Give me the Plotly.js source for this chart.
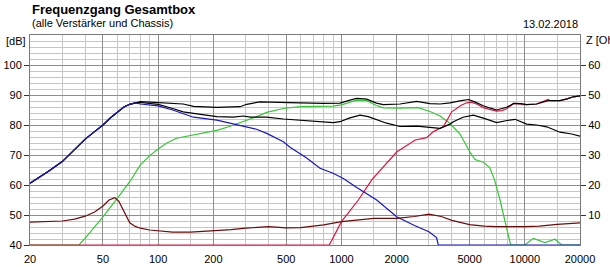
<!DOCTYPE html>
<html><head><meta charset="utf-8">
<script src="https://cdn.plot.ly/plotly-3.0.1.min.js"></script>
<style>html,body{margin:0;padding:0;background:#fff}#c{width:610px;height:267px}</style>
</head><body><div id="c"></div>
<script>
// ---- data ----
var lowF  = [20,25,30,35,40,45,50,55,60,65,70,75];
var lowDB = [60.6,64.4,67.8,71.8,75.3,77.8,80.0,82.4,84.4,86.0,86.9,87.4];

var upperF  = [80,90,100,120,137,156,209,280,304,359,482,594,800,982,1100,1210,1373,1550,1692,2086,2573,3040,3447,3910,4500,4930,5300,5938,6500,7020,7962,8700,9500,10237,11600,13160,13400,13800,15560,17000,18390,20000];
var upperDB = [87.8,87.6,87.4,87.2,87.0,86.2,85.9,86.1,86.9,87.7,87.4,87.4,87.2,87.3,88.2,88.9,88.6,87.3,86.8,87.0,87.9,87.1,87.0,87.4,88.1,88.5,87.8,86.4,85.6,85.0,85.9,87.2,87.1,86.8,87.0,88.1,88.1,88.1,88.1,88.7,89.4,89.7];

var lowerF  = [80,90,100,120,137,156,209,257,292,318,391,482,594,750,902,982,1100,1262,1400,1764,2086,2573,2794,3447,3910,4074,4600,5240,6000,7020,8000,8840,10237,11600,13160,15560,18000,20000];
var lowerDB = [87.5,87.2,86.9,85.5,84.4,83.9,82.8,82.6,83.0,82.6,82.6,82.0,81.6,81.0,80.8,81.1,82.3,83.3,82.8,80.6,79.5,79.6,79.4,78.9,80.3,81.1,82.6,83.3,82.2,80.8,81.5,81.9,80.3,80.0,79.4,77.6,77.0,76.3];

var wooferF  = [80,90,100,120,137,156,209,247,292,344,391,482,524,594,646,764,900,1024,1200,1556,2000,2500,3000,3300,3374,20000];
var wooferDB = [87.0,86.7,86.4,85.0,83.9,82.6,81.6,80.6,79.4,78.6,77.2,74.4,72.6,70.5,69.0,65.6,63.9,62.2,59.3,55.0,49.4,46.5,44.4,42.5,40.0,40.0];

var midF  = [20,37,40,50,60,70,80,90,100,111,126,150,209,247,292,344,391,482,594,902,1000,1100,1210,1373,1550,1692,2086,2624,2794,3040,3447,3910,4430,5020,5347,5938,6430,6840,7323,8370,10000,11125,12886,14610,15900,20000];
var midDB = [40,40,42.3,49.4,55.6,61.1,66.7,69.8,72.0,73.9,75.6,76.5,78.2,79.6,81.1,82.8,84.2,85.5,86.1,86.3,86.7,87.6,88.3,88.1,86.5,85.7,85.6,85.8,85.3,84.5,83.0,80.5,77.0,71.0,68.5,67.6,65.8,61.7,55.0,40.0,40.0,42.2,40.8,41.9,40.0,40.0];

var tweetF  = [20,858,1000,1236,1462,2000,2524,2917,3170,3594,3992,4500,4821,5100,5500,5938,6500,7020,7500,7962,8700,9500,10237,11600,13160,13400,13800,15560,17000,18390,20000];
var tweetDB = [40,40,47.8,55.0,61.7,71.0,75.0,75.8,77.8,79.4,84.4,86.6,87.4,87.6,86.9,85.8,85.1,84.6,84.8,85.4,87.2,87.1,86.8,87.0,88.1,88.5,88.1,88.1,88.7,89.4,89.7];

var impF   = [20,25,30,35,40,45,50,54,58,61,64,67,70,75,80,90,100,120,150,200,250,300,400,500,600,700,800,1000,1200,1500,2000,2500,3000,3500,4000,5000,6000,7000,10000,12000,15000,20000];
var impOhm = [7.6,7.7,8.0,8.6,9.6,11.0,13.0,15.0,15.8,14.6,12.0,9.3,7.4,6.2,5.6,5.0,4.7,4.3,4.3,4.7,5.1,5.6,6.1,5.7,5.8,6.3,6.7,7.8,8.3,8.9,8.9,9.5,10.3,9.5,8.2,6.8,6.3,6.1,6.1,6.3,6.9,7.4];

var xMajor = [20,50,100,200,500,1000,2000,5000,10000,20000];
var xMajorText = ['20','50','100','200','500','1000','2000','5000','10000','20000'];
var xMinor = [30,40,60,70,80,90,150,300,400,600,700,800,900,1500,3000,4000,6000,7000,8000,9000,15000];
var yLeftTicks = [40,50,60,70,80,90,100];
var yRightTicks = [10,20,30,40,50,60];

// ---- chart ----
function ln(x,y,color,axis){
  return {x:x,y:y,type:'scatter',mode:'lines',yaxis:axis||'y',
    line:{color:color,width:1.2},hoverinfo:'skip',showlegend:false};
}
var traces = [
  ln(impF, impOhm, '#700a0a','y2'),
  ln(midF, midDB, '#33c833'),
  ln(tweetF, tweetDB, '#dc143c'),
  ln(lowF.concat(lowerF), lowDB.concat(lowerDB), '#000000'),
  ln(lowF.concat(upperF), lowDB.concat(upperDB), '#000000'),
  ln(lowF.concat(wooferF), lowDB.concat(wooferDB), '#1515c8')
];

var fnt = {family:'Liberation Sans, Arial, sans-serif', size:11, color:'#000'};
var layout = {
  width:610, height:267,
  margin:{l:30,r:30,t:35,b:22,pad:0},
  paper_bgcolor:'#fff', plot_bgcolor:'#fff',
  font:fnt,
  xaxis:{type:'log', range:[Math.log10(20),Math.log10(20000)],
    tickmode:'array', tickvals:xMajor, ticktext:xMajorText,
    showgrid:true, gridcolor:'#8e8e8e', gridwidth:1,
    minor:{tickmode:'array', tickvals:xMinor, showgrid:true, gridcolor:'#c6c6c6', gridwidth:1, ticks:''},
    showline:true, mirror:true, linecolor:'#7a7a7a', linewidth:1,
    ticks:'', ticklabelstandoff:4, zeroline:false, fixedrange:true, tickfont:fnt},
  yaxis:{range:[40,110], tickmode:'array', tickvals:yLeftTicks,
    showgrid:true, gridcolor:'#8e8e8e', gridwidth:1,
    minor:{dtick:2, tick0:40, showgrid:true, gridcolor:'#c6c6c6', gridwidth:1, ticks:''},
    showline:true, mirror:true, linecolor:'#7a7a7a', linewidth:1,
    ticks:'outside', ticklen:5, tickcolor:'#333', tickwidth:1,
    zeroline:false, fixedrange:true, tickfont:fnt},
  yaxis2:{overlaying:'y', side:'right', range:[0,70], tickmode:'array', tickvals:yRightTicks,
    showgrid:false, zeroline:false, showline:false,
    ticks:'outside', ticklen:5, tickcolor:'#333', tickwidth:1, fixedrange:true, tickfont:fnt},
  annotations:[
    {xref:'paper',yref:'paper',x:0,y:1.122,xanchor:'left',yanchor:'middle',showarrow:false,
     text:'<b>Frequenzgang Gesamtbox</b>', font:{family:'Liberation Sans, Arial, sans-serif',size:13,color:'#000'}},
    {xref:'paper',yref:'paper',x:0,y:1.057,xanchor:'left',yanchor:'middle',showarrow:false,
     text:'(alle Verstärker und Chassis)', font:fnt},
    {xref:'paper',yref:'paper',x:1,y:1.052,xanchor:'right',yanchor:'middle',showarrow:false,
     text:'13.02.2018', font:fnt},
    {xref:'paper',yref:'paper',x:-0.004,y:0.970,xanchor:'right',yanchor:'middle',showarrow:false,
     text:'[dB]', font:fnt},
    {xref:'paper',yref:'paper',x:1.007,y:0.975,xanchor:'left',yanchor:'middle',showarrow:false,
     text:'Z [Ohm]', font:fnt}
  ]
};
Plotly.newPlot('c', traces, layout, {staticPlot:true, displayModeBar:false});
</script></body></html>
